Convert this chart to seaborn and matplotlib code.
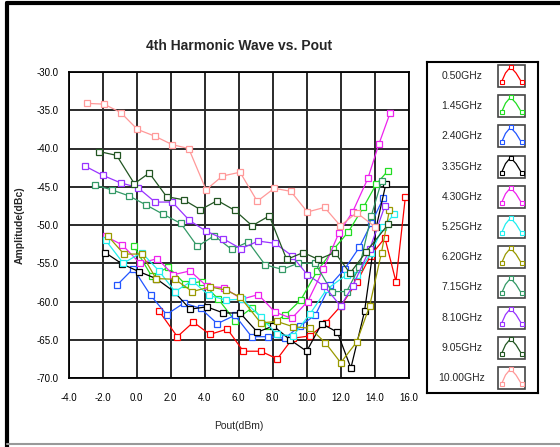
import pandas as pd
import seaborn as sns
import matplotlib.pyplot as plt
from matplotlib.patches import Rectangle
from matplotlib.lines import Line2D
from matplotlib.ticker import MultipleLocator, FormatStrFormatter

# Data
labels = ['0.50GHz', '1.45GHz', '2.40GHz', '3.35GHz', '4.30GHz', '5.25GHz',
          '6.20GHz', '7.15GHz', '8.10GHz', '9.05GHz', '10.00GHz']
colors = ['#FF0000', '#22DD22', '#2255FF', '#000000', '#EE22EE', '#22EEEE',
          '#999900', '#339966', '#9933FF', '#225522', '#FF9999']

x050 = [1.33, 2.39, 3.33, 4.31, 5.33, 6.27, 7.3, 8.27, 9.18, 10.2, 11.12, 12.0, 12.94, 13.76, 14.6, 15.25, 15.8]
y050 = [-61.3, -64.6, -62.7, -64.3, -63.6, -66.5, -66.5, -67.5, -64.8, -64.5, -62.8, -60.6, -57.5, -54.0, -51.7, -57.4, -46.4]

x145 = [-0.16, 0.88, 1.86, 2.84, 3.82, 4.8, 5.78, 6.8, 7.74, 8.72, 9.65, 10.62, 11.57, 12.45, 13.33, 14.08, 14.78]
y145 = [-52.8, -56.7, -55.5, -57.7, -57.4, -59.7, -62.5, -60.8, -63.2, -61.8, -59.8, -56.0, -53.2, -50.9, -47.7, -44.7, -42.9]

x240 = [-1.18, -0.2, 0.82, 1.76, 2.78, 3.76, 4.74, 5.78, 6.76, 7.74, 8.72, 9.6, 10.5, 11.37, 12.25, 13.1, 13.8, 14.5]
y240 = [-57.9, -55.7, -59.2, -61.7, -60.2, -60.9, -62.9, -61.8, -64.6, -64.6, -64.8, -63.2, -61.8, -57.9, -55.7, -52.9, -49.8, -46.5]

x335 = [-1.86, -0.85, 0.14, 1.14, 2.19, 3.14, 4.12, 5.1, 6.08, 7.1, 8.04, 9.02, 10.0, 10.88, 11.8, 12.6, 13.4, 14.1, 14.65]
y335 = [-53.6, -55.1, -56.1, -57.0, -58.7, -61.0, -60.7, -61.5, -61.5, -64.0, -63.2, -65.0, -66.5, -62.9, -64.0, -68.7, -61.3, -50.2, -44.7]

x430 = [-1.82, -0.85, 0.19, 1.21, 2.15, 3.14, 4.12, 5.14, 6.18, 7.15, 8.14, 9.12, 10.06, 10.98, 11.9, 12.7, 13.6, 14.25, 14.9]
y430 = [-51.5, -52.6, -55.0, -54.4, -56.5, -56.0, -58.0, -58.2, -59.7, -59.1, -61.4, -62.2, -60.0, -55.8, -51.0, -48.3, -43.9, -39.4, -35.4]

x525 = [-1.82, -0.79, 0.29, 1.31, 2.25, 3.27, 4.25, 5.24, 6.21, 7.29, 8.24, 9.2, 10.2, 11.18, 12.35, 12.98, 13.8, 14.5, 15.15]
y525 = [-52.0, -55.0, -53.6, -56.0, -58.7, -57.3, -59.2, -59.8, -59.7, -62.0, -64.3, -64.5, -61.6, -58.4, -56.5, -56.6, -53.6, -50.2, -48.6]

x620 = [-1.71, -0.75, 0.29, 1.14, 2.25, 3.27, 4.31, 5.24, 6.08, 7.3, 8.24, 9.2, 10.2, 11.1, 12.0, 12.94, 13.7, 14.4, 14.86]
y620 = [-51.4, -53.8, -53.8, -57.0, -57.1, -58.7, -58.1, -58.5, -59.4, -62.8, -62.6, -63.3, -63.5, -65.4, -68.0, -65.3, -60.6, -53.6, -48.1]

x715 = [-2.45, -1.47, -0.45, 0.57, 1.56, 2.6, 3.57, 4.56, 5.59, 6.56, 7.55, 8.56, 9.5, 10.5, 11.47, 12.35, 13.1, 13.8, 14.4]
y715 = [-44.8, -45.4, -46.2, -47.4, -48.6, -49.8, -52.8, -51.4, -53.2, -52.2, -55.2, -55.8, -55.0, -55.0, -58.7, -58.7, -55.5, -48.8, -44.3]

x810 = [-3.04, -2.0, -0.94, 0.06, 1.08, 2.09, 3.1, 4.08, 5.09, 6.13, 7.15, 8.14, 9.12, 10.04, 11.04, 12.0, 12.7, 13.7, 14.6]
y810 = [-42.3, -43.5, -44.5, -45.1, -47.0, -47.0, -49.4, -50.8, -51.8, -53.1, -52.1, -52.4, -54.0, -56.5, -58.0, -60.6, -58.0, -53.2, -47.5]

x905 = [-2.2, -1.18, -0.14, 0.74, 1.76, 2.76, 3.75, 4.75, 5.78, 6.79, 7.8, 8.82, 9.8, 10.68, 11.66, 12.55, 13.5, 14.8]
y905 = [-40.4, -40.9, -44.6, -43.2, -46.3, -46.7, -48.0, -46.8, -48.1, -50.1, -48.8, -54.5, -53.6, -54.5, -53.6, -56.3, -53.5, -49.9]

x1000 = [-2.94, -1.92, -0.94, 0.04, 1.08, 2.09, 3.06, 4.08, 5.04, 6.08, 7.09, 8.09, 9.06, 10.04, 11.05, 11.98, 12.94, 14.0]
y1000 = [-34.1, -34.2, -35.3, -37.5, -38.4, -39.5, -40.0, -45.4, -43.6, -43.1, -46.9, -45.2, -45.6, -48.3, -47.7, -50.1, -48.4, -50.2]

xs = [x050, x145, x240, x335, x430, x525, x620, x715, x810, x905, x1000]
ys = [y050, y145, y240, y335, y430, y525, y620, y715, y810, y905, y1000]

frames = []
for lab, xv, yv in zip(labels, xs, ys):
    frames.append(pd.DataFrame({'Pout': xv, 'Amp': yv, 'Freq': lab}))
df = pd.concat(frames, ignore_index=True)
palette = dict(zip(labels, colors))

sns.set_style('white')
plt.rcParams['font.family'] = ['Liberation Sans Narrow', 'Liberation Sans', 'DejaVu Sans']

fig = plt.figure(figsize=(5.6, 4.47), dpi=100)
W, H = 560, 447
ax = fig.add_axes([68.7 / W, 1 - 378 / H, 340 / W, 306 / H])

sns.lineplot(data=df, x='Pout', y='Amp', hue='Freq', palette=palette, hue_order=labels,
             sort=False, estimator=None, legend=False, ax=ax,
             marker='s', markersize=5, markerfacecolor='white', markeredgecolor='auto',
             markeredgewidth=0.9, linewidth=0.9)

ax.set_xlim(-4, 16)
ax.set_ylim(-70, -30)
ax.xaxis.set_major_locator(MultipleLocator(2))
ax.xaxis.set_minor_locator(MultipleLocator(0.5))
ax.yaxis.set_major_locator(MultipleLocator(5))
ax.yaxis.set_minor_locator(MultipleLocator(1))
ax.xaxis.set_major_formatter(FormatStrFormatter('%.1f'))
ax.yaxis.set_major_formatter(FormatStrFormatter('%.1f'))
ax.grid(True, which='major', color='#2a2a2a', linewidth=1.4)
ax.set_axisbelow(True)
ax.tick_params(which='major', direction='out', length=5, width=1, labelsize=7, colors='black', pad=2)
ax.tick_params(which='minor', direction='out', length=3, width=0.8, colors='black')
ax.tick_params(axis='x', pad=6)
for sp in ax.spines.values():
    sp.set_visible(True)
    sp.set_color('black')
    sp.set_linewidth(1.3)
ax.set_xlabel('Pout(dBm)', fontsize=7.5, labelpad=13)
ax.set_ylabel('Amplitude(dBc)', fontsize=7.5, fontweight='bold', labelpad=9)

fig.text(238.7 / W, 1 - 46 / H, '4th Harmonic Wave vs. Pout', ha='center', va='center',
         fontsize=10, fontweight='bold')

# legend drawn as its own panel
lax = fig.add_axes([427 / W, 1 - 393 / H, 111 / W, 331 / H])
lax.set_xlim(427, 538)
lax.set_ylim(393, 62)
lax.set_xticks([])
lax.set_yticks([])
for sp in lax.spines.values():
    sp.set_color('black')
    sp.set_linewidth(1.5)
for i, (lab, col) in enumerate(zip(labels, colors)):
    yc = 76 + 30.2 * i
    lax.text(462, yc, lab, ha='center', va='center', fontsize=7.5)
    lax.add_patch(Rectangle((498, yc - 11), 27, 22, facecolor='white', edgecolor='#444444', lw=1.2))
    lax.plot([501.5, 505.5, 510.5, 516, 521.5], [yc + 6, yc - 3, yc - 9, yc - 3, yc + 6], color=col, lw=0.9)
    lax.plot([501.5, 510.5, 521.5], [yc + 6, yc - 9, yc + 6], ls='none', marker='s', ms=3.5,
             mfc='white', mec=col, mew=0.8)

# window frame
fig.add_artist(Line2D([7 / W, 7 / W], [0, 1 - 3 / H], color='black', lw=3, transform=fig.transFigure))
fig.add_artist(Line2D([7 / W, 1], [1 - 3 / H, 1 - 3 / H], color='black', lw=3, transform=fig.transFigure))
fig.add_artist(Line2D([7 / W, 1], [1 - 444 / H, 1 - 444 / H], color='#999999', lw=1.5, transform=fig.transFigure))

plt.savefig('out.png', dpi=100)
plt.close()
